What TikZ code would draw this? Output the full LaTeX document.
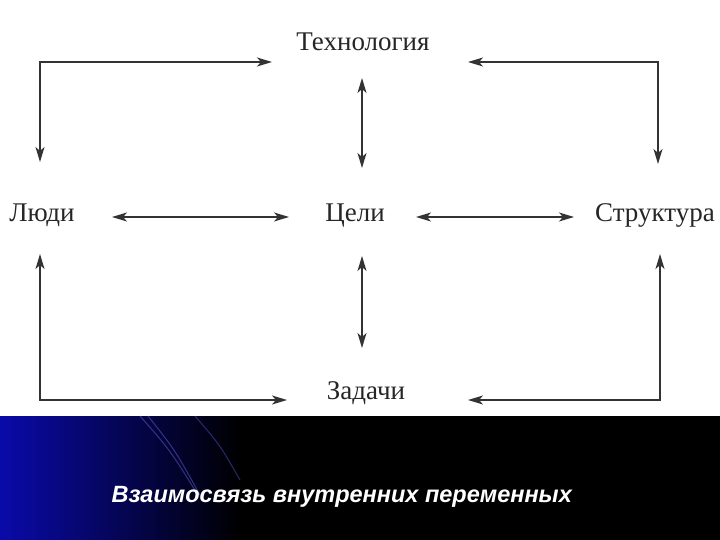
\documentclass[tikz,border=0pt]{standalone}
\usepackage{fontspec}
\setmainfont{Liberation Serif}
\newfontfamily\capfont{Liberation Sans}
\usetikzlibrary{arrows.meta}
\definecolor{deepblue}{RGB}{10,10,170}
\begin{document}
\begin{tikzpicture}[x=1pt,y=-1pt,
  lbl/.style={font=\fontsize{27}{30}\selectfont, inner sep=0pt, text=black!85, anchor=base},
  conn/.style={line width=1.3pt, black!80, {Stealth[length=15pt,width=9pt,inset=4pt]}-{Stealth[length=15pt,width=9pt,inset=4pt]}}]
\useasboundingbox (0,0) rectangle (720,540);
\fill[white] (0,0) rectangle (720,416);
\fill[black] (0,416) rectangle (720,540);
\shade[left color=deepblue, right color=black] (0,416) rectangle (240,540);
\draw[deepblue!70, line width=1pt, opacity=0.6] (140,416) .. controls (170,450) .. (198,495);
\draw[deepblue!70, line width=1pt, opacity=0.6] (148,416) .. controls (175,450) .. (200,495);
\draw[deepblue!70, line width=1pt, opacity=0.5] (195,416) .. controls (220,445) .. (240,480);
\node[text=white, font=\capfont\bfseries\itshape\fontsize{23.5}{26}\selectfont, anchor=west] (cap) at (108,497) {Взаимосвязь внутренних переменных};

\node[lbl] (tech) at (363,51) {Технология};
\node[lbl] (ppl) at (42,222) {Люди};
\node[lbl] (goal) at (355,222) {Цели};
\node[lbl] (str) at (655,222) {Структура};
\node[lbl] (task) at (366,399) {Задачи};

\coordinate (tl1) at (40,162); \coordinate (tl2) at (272,62);
\coordinate (tr1) at (658,164); \coordinate (tr2) at (468,62);
\coordinate (bl1) at (40,254); \coordinate (bl2) at (287,400);
\coordinate (br1) at (660,254); \coordinate (br2) at (468,400);
\draw[conn] (tl1) |- (tl2);
\draw[conn] (tr1) |- (tr2);
\draw[conn] (bl1) |- (bl2);
\draw[conn] (br1) |- (br2);
\draw[conn] (362,78) -- (362,168);
\draw[conn] (362,256) -- (362,348);
\draw[conn] (112,217) -- (289,217);
\draw[conn] (416,217) -- (574,217);
\end{tikzpicture}
\end{document}
